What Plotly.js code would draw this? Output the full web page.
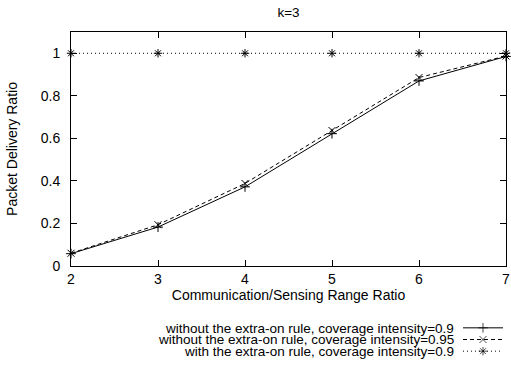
<!DOCTYPE html>
<html><head><meta charset="utf-8">
<script src="https://cdn.plot.ly/plotly-3.0.1.min.js"></script>
<style>html,body{margin:0;padding:0;background:#fff}#chart{width:511px;height:366px}</style>
</head><body><div id="chart"></div>
<script>
var ratios = [2, 3, 4, 5, 6, 7];
var noExtra09 = [0.058, 0.183, 0.372, 0.622, 0.870, 0.985];
var noExtra095 = [0.060, 0.194, 0.388, 0.637, 0.886, 0.987];
var withExtra09 = [1, 1, 1, 1, 1, 1];
var seriesNames = [
  "without the extra-on rule, coverage intensity=0.9",
  "without the extra-on rule, coverage intensity=0.95",
  "with the extra-on rule, coverage intensity=0.9"
];
var yTicks = [0, 0.2, 0.4, 0.6, 0.8, 1];
var yTickText = ["0", "0.2", "0.4", "0.6", "0.8", "1"];

var styles = [
  {dash: "solid", symbol: "cross-thin-open"},
  {dash: "4px,3px", symbol: "x-thin-open"},
  {dash: "1px,3px", symbol: "asterisk-open"}
];
var values = [noExtra09, noExtra095, withExtra09];
var font = "Liberation Sans, Arial, Helvetica, sans-serif";

var traces = [];
values.forEach(function (v, i) {
  traces.push({
    x: ratios, y: v, type: "scatter", mode: "lines+markers",
    line: {color: "#000", width: 1, dash: styles[i].dash},
    marker: {symbol: styles[i].symbol, size: 7, color: "#000", line: {color: "#000", width: 1}},
    showlegend: false, xaxis: "x", yaxis: "y", cliponaxis: false
  });
});
// legend samples drawn on small hidden axes below the plot
var annotations = [];
var legendTextX = (455 - 71) / 435;
var legendRowsPx = [328, 339.5, 351];
values.forEach(function (v, i) {
  var row = 2.5 - i;
  traces.push({
    x: [0, 0.5, 1], y: [row, row, row], type: "scatter", mode: "lines+markers",
    line: {color: "#000", width: 1, dash: styles[i].dash},
    marker: {symbol: styles[i].symbol, size: [0, 7, 0], color: "#000", line: {color: "#000", width: 1}},
    showlegend: false, xaxis: "x2", yaxis: "y2", cliponaxis: false, hoverinfo: "skip"
  });
  annotations.push({
    xref: "paper", yref: "paper", x: legendTextX, y: (366 - legendRowsPx[i]) / 334,
    xanchor: "right", yanchor: "middle", borderpad: 0,
    text: seriesNames[i], showarrow: false, font: {family: font, size: 13.5, color: "#000"}
  });
});

var layout = {
  width: 511, height: 366,
  margin: {l: 71, r: 5, t: 32, b: 0},
  paper_bgcolor: "#fff", plot_bgcolor: "#fff",
  font: {family: font, size: 13, color: "#000"},
  title: {text: "k=3", font: {family: font, size: 13.5, color: "#000"}, x: 0.5645, xanchor: "center", y: 0.967, yanchor: "middle"},
  xaxis: {
    range: [2, 7], tickvals: ratios, ticktext: ratios.map(String),
    ticks: "inside", ticklen: 6, tickcolor: "#000", mirror: "allticks",
    showline: true, linecolor: "#000", linewidth: 1, showgrid: false, zeroline: false,
    tickfont: {family: font, size: 14}, anchor: "y",
    title: {text: "Communication/Sensing Range Ratio", font: {family: font, size: 14}, standoff: 4}
  },
  yaxis: {
    domain: [100 / 334, 1], range: [0, 1.1], tickvals: yTicks, ticktext: yTickText,
    ticks: "inside", ticklen: 6, tickcolor: "#000", mirror: "allticks",
    showline: true, linecolor: "#000", linewidth: 1, showgrid: false, zeroline: false,
    tickfont: {family: font, size: 14}, anchor: "x", ticklabelstandoff: 7,
    title: {text: "Packet Delivery Ratio", font: {family: font, size: 14}, standoff: 19}
  },
  xaxis2: {domain: [(463 - 71) / 435, (503 - 71) / 435], range: [0, 1], visible: false, anchor: "y2"},
  yaxis2: {domain: [9 / 334, 44 / 334], range: [0, 3], visible: false, anchor: "x2"},
  annotations: annotations,
  showlegend: false
};
Plotly.newPlot("chart", traces, layout, {displayModeBar: false, staticPlot: true});
</script></body></html>
